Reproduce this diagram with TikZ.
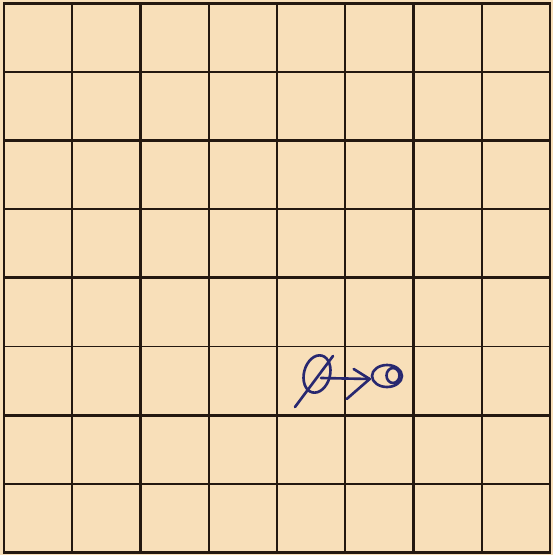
\documentclass[tikz,border=0pt]{standalone}
\usepackage{xcolor}
\usepackage{tikz}
\usetikzlibrary{arrows.meta, calc, shapes.geometric}
\definecolor{paper}{RGB}{248,223,185}
\definecolor{rule}{RGB}{36,24,16}
\definecolor{ink}{RGB}{40,40,112}
\tikzset{
  major/.style ={draw=rule, line width=1.7pt, line cap=rect},
  minor/.style ={draw=rule, line width=1.1pt},
  pen/.style   ={draw=ink, line width=1.5pt, line cap=round, line join=round},
  loopmark/.style={ellipse, pen, inner sep=0pt}
}

\begin{document}
\begin{tikzpicture}[x=0.02cm, y=-0.02cm]
% Paper
\fill[paper] (0,0) rectangle (553,555);
\useasboundingbox (0,0) rectangle (553,555);

% Board lines (thin on odd, heavy on even)
\foreach \i in {1,3,5,7}{
  \draw[minor] ({4+68.25*\i},3.5) -- ({4+68.25*\i},552);
  \draw[minor] (4,{3.5+68.6*\i}) -- (550,{3.5+68.6*\i});
}
\foreach \i in {0,2,4,6,8}{
  \draw[major] ({4+68.25*\i},3.5) -- ({4+68.25*\i},552);
  \draw[major] (4,{3.5+68.6*\i}) -- (550,{3.5+68.6*\i});
}

% Pen marks
\node[loopmark, minimum width=0.52cm, minimum height=0.76cm, rotate=-15] (start) at (317,374) {};
\node[loopmark, minimum width=0.6cm, minimum height=0.44cm] (target) at (387,376) {};
\node[loopmark, minimum width=0.26cm, minimum height=0.3cm] (inner) at (393,375.5) {};
\coordinate (tip) at ($(target.west)+(-1,3)$);

\draw[pen] ($(start.center)+(-22,33)$) -- ($(start.center)+(16,-18)$);
\draw[pen] ($(start.center)+(4,4)$) -- (tip);
\draw[pen] (tip) -- ++(-23,20);
\draw[pen] (tip) -- ++(-16,-10);
\end{tikzpicture}
\end{document}
